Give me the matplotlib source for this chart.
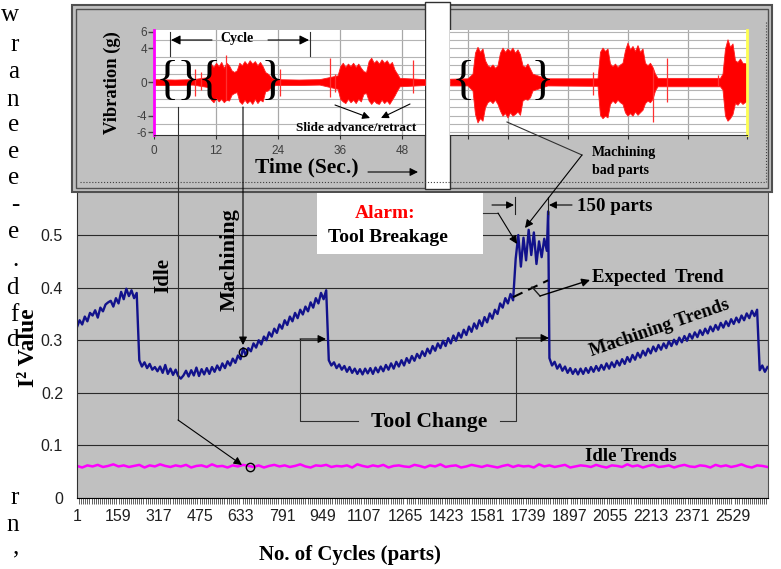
import numpy as np
import matplotlib.pyplot as plt
from matplotlib.patches import Rectangle

W, H = 781, 569
SERIF = ['Liberation Serif', 'DejaVu Serif']
SANS = ['Liberation Sans', 'DejaVu Sans']

# ---- I2 value per cycle (one value every 10 cycles) ----
seg1 = [0.325, 0.338, 0.330, 0.345, 0.336, 0.352, 0.347, 0.357, 0.343, 0.362,
        0.355, 0.368, 0.372, 0.375, 0.364, 0.380, 0.370, 0.392, 0.378, 0.398,
        0.384, 0.395, 0.380, 0.390]
seg2 = [0.262, 0.250, 0.258, 0.247, 0.255, 0.244, 0.249, 0.241, 0.250, 0.238,
        0.253, 0.236, 0.246, 0.234, 0.244, 0.232, 0.227, 0.233, 0.242, 0.231,
        0.243, 0.233, 0.248, 0.232, 0.245, 0.235, 0.247, 0.236, 0.249, 0.240,
        0.252, 0.243, 0.256, 0.247, 0.260, 0.252, 0.265, 0.257, 0.271, 0.264,
        0.285, 0.271, 0.285, 0.279, 0.294, 0.286, 0.300, 0.292, 0.307, 0.300,
        0.315, 0.307, 0.322, 0.314, 0.330, 0.322, 0.338, 0.329, 0.345, 0.336,
        0.352, 0.342, 0.358, 0.349, 0.364, 0.355, 0.372, 0.362, 0.380, 0.370,
        0.390, 0.378, 0.395]
seg3 = [0.262, 0.252, 0.258, 0.247, 0.254, 0.244, 0.251, 0.240, 0.249, 0.238,
        0.246, 0.236, 0.245, 0.235, 0.246, 0.237, 0.247, 0.236, 0.248, 0.239,
        0.250, 0.241, 0.253, 0.244, 0.256, 0.246, 0.259, 0.250, 0.262, 0.252,
        0.266, 0.257, 0.270, 0.261, 0.274, 0.266, 0.279, 0.270, 0.284, 0.275,
        0.289, 0.280, 0.294, 0.285, 0.299, 0.289, 0.304, 0.294, 0.309, 0.299,
        0.314, 0.305, 0.320, 0.310, 0.326, 0.316, 0.332, 0.322, 0.338, 0.327,
        0.344, 0.334, 0.351, 0.341, 0.358, 0.350, 0.370, 0.362, 0.380, 0.370,
        0.388, 0.376]
seg4 = [0.455, 0.500, 0.440, 0.495, 0.452, 0.510, 0.462, 0.505, 0.445, 0.488,
        0.458, 0.493, 0.470]
spike_cycle, spike_value = 1816, 0.545
seg5 = [0.266, 0.252, 0.259, 0.246, 0.254, 0.242, 0.250, 0.238, 0.247, 0.236,
        0.245, 0.235, 0.246, 0.236, 0.247, 0.238, 0.249, 0.240, 0.251, 0.242,
        0.253, 0.244, 0.256, 0.246, 0.258, 0.249, 0.261, 0.252, 0.264, 0.255,
        0.268, 0.259, 0.272, 0.263, 0.276, 0.267, 0.280, 0.271, 0.284, 0.275,
        0.288, 0.279, 0.291, 0.282, 0.294, 0.285, 0.298, 0.289, 0.301, 0.292,
        0.305, 0.296, 0.308, 0.299, 0.312, 0.303, 0.315, 0.306, 0.319, 0.310,
        0.322, 0.313, 0.326, 0.317, 0.329, 0.320, 0.333, 0.324, 0.336, 0.327,
        0.340, 0.331, 0.343, 0.334, 0.347, 0.338, 0.351, 0.342, 0.356, 0.346,
        0.358]
seg6 = [0.243, 0.252, 0.240, 0.249]

idle_i2 = [0.061, 0.058, 0.062, 0.060, 0.063, 0.059, 0.061, 0.064, 0.060, 0.062,
           0.059, 0.061, 0.063, 0.058, 0.062, 0.060, 0.064, 0.061, 0.059, 0.062,
           0.060, 0.063, 0.058, 0.061, 0.062, 0.059, 0.064, 0.060, 0.061, 0.058,
           0.062, 0.060, 0.063, 0.061, 0.059, 0.062, 0.058, 0.061, 0.063, 0.060,
           0.062, 0.059, 0.061, 0.064, 0.060, 0.058, 0.062, 0.061, 0.063, 0.059,
           0.061, 0.060, 0.062, 0.058, 0.064, 0.061, 0.059, 0.062, 0.060, 0.063,
           0.058, 0.061, 0.062, 0.060, 0.059, 0.063, 0.061, 0.058, 0.062, 0.060,
           0.064, 0.059, 0.061, 0.062, 0.058, 0.060, 0.063, 0.061, 0.059, 0.062,
           0.060, 0.058, 0.061, 0.063, 0.059, 0.062, 0.060, 0.061, 0.058, 0.064,
           0.060, 0.062, 0.059, 0.061, 0.063, 0.058, 0.060, 0.062, 0.061, 0.059,
           0.063, 0.060, 0.058, 0.062, 0.061, 0.059, 0.064, 0.060, 0.062, 0.058,
           0.061, 0.063, 0.059, 0.060, 0.062, 0.058, 0.061, 0.063, 0.060, 0.059,
           0.062, 0.061, 0.058, 0.063, 0.060, 0.062, 0.059, 0.061, 0.064, 0.060,
           0.058, 0.062, 0.061, 0.059]

expected_cycles = [1681, 1816]
expected_i2 = [0.382, 0.414]
mark_cycles = [640, 667]
mark_i2 = [0.278, 0.059]

xtick_vals = list(range(1, 2530, 158))
n_cycles = 2663

# ---- vibration trace envelopes (g), left and right part of the inset ----
t_left = [0, 4, 7.5, 10.5, 11.0, 11.5, 12.0, 12.5, 13.0, 13.5, 14.0, 14.5, 15.0,
          15.5, 16.0, 16.5, 17.0, 17.5, 18.0, 18.5, 19.0, 19.5, 20.0, 20.5, 21.0,
          21.5, 22.0, 22.8, 23.5, 28, 32, 35.5, 36.0, 36.5, 37.0, 37.5, 38.0, 38.5,
          39.0, 39.5, 40.0, 40.5, 41.0, 41.5, 42.0, 42.5, 43.0, 43.5, 44.0, 44.5,
          45.0, 45.5, 46.0, 46.5, 47.0, 47.5, 52.4]
hi_left = [0.35, 0.30, 0.35, 0.60, 2.2, 1.8, 2.3, 1.9, 2.4, 1.7, 2.3, 2.0, 1.4,
           1.2, 1.4, 2.3, 2.0, 2.5, 2.1, 2.6, 2.2, 2.5, 2.0, 2.4, 1.9,
           1.2, 1.0, 0.5, 0.35, 0.3, 0.35, 0.8, 1.9, 2.3, 1.8, 2.2, 1.9, 2.3,
           1.8, 2.2, 1.7, 1.3, 1.2, 2.5, 2.9, 2.3, 2.6, 2.2, 2.7, 2.3,
           2.6, 2.1, 2.4, 1.5, 1.0, 0.5, 0.35]
lo_left = [-0.35, -0.35, -0.30, -0.60, -2.1, -2.4, -1.9, -2.3, -2.0, -2.4, -2.1, -2.2, -1.5,
           -1.3, -1.2, -2.3, -2.6, -2.1, -2.5, -2.2, -2.6, -2.0, -2.5, -2.1, -2.3,
           -1.1, -1.0, -0.5, -0.35, -0.35, -0.3, -0.8, -2.0, -2.3, -2.5, -2.0, -2.4, -2.1,
           -2.5, -2.0, -2.3, -1.4, -1.3, -2.2, -2.6, -2.2, -2.5, -2.6, -2.1, -2.5,
           -2.2, -2.6, -2.1, -1.6, -1.0, -0.5, -0.35]
spike_t_left = [8.0, 9.0, 14.0, 24.4, 34.0, 35.0, 50.0]
spike_hi_left = [1.6, 1.2, 3.2, 1.5, 2.9, 1.0, 2.6]
spike_lo_left = [-1.7, -1.0, -2.1, -1.6, -1.8, -1.2, -1.3]

t_right = [0, 3.5, 4.5, 5.0, 5.5, 6.0, 6.5, 7.0, 7.5, 8.0, 8.5, 9.0, 9.5, 10.0,
           10.5, 11.0, 11.5, 12.0, 12.5, 13.0, 13.5, 14.0, 14.5, 15.0, 15.5, 16.0,
           16.5, 17.5, 18.5, 19.5, 29.5, 30.0, 30.5, 31.0, 31.5, 32.0, 32.5, 33.0,
           33.5, 34.0, 34.5, 35.0, 35.5, 36.0, 36.5, 37.0, 37.5, 38.0, 38.5, 39.0,
           39.5, 40.0, 40.5, 41.0, 41.5, 54.0, 54.5, 55.0, 55.5, 56.0, 56.5, 57.0,
           57.5, 58.0, 58.5, 59.4]
hi_right = [0.4, 0.45, 1.0, 3.5, 4.2, 3.6, 4.0, 2.6, 2.0, 1.8, 2.1, 1.7, 2.0, 3.5,
            4.1, 3.6, 4.0, 3.7, 4.1, 3.5, 3.9, 3.3, 2.0, 1.8, 2.2, 1.6,
            1.0, 0.8, 0.6, 0.45, 0.45, 3.6, 4.1, 3.7, 4.0, 2.2, 1.9, 2.2,
            1.8, 2.1, 2.3, 3.8, 4.7, 3.9, 4.3, 3.7, 4.4, 3.6, 4.0, 2.3,
            2.0, 2.3, 1.8, 1.0, 0.5, 0.5, 1.0, 4.0, 5.1, 4.2, 4.6, 2.6,
            2.4, 2.8, 2.3, 2.2]
lo_right = [-0.4, -0.4, -1.0, -3.8, -4.8, -4.3, -4.6, -3.0, -2.4, -2.2, -2.5, -2.1, -2.6, -3.4,
            -4.0, -3.7, -4.2, -3.6, -4.0, -3.8, -3.5, -3.9, -2.2, -2.0, -2.1, -1.8,
            -1.0, -0.8, -0.6, -0.4, -0.45, -3.9, -4.3, -4.0, -4.2, -2.6, -2.2, -2.5,
            -2.1, -2.4, -2.6, -3.6, -4.0, -3.7, -4.0, -3.5, -3.9, -3.6, -3.3, -2.5,
            -2.2, -2.4, -2.0, -1.0, -0.5, -0.5, -0.9, -4.0, -4.6, -4.3, -3.8, -2.5,
            -2.7, -2.3, -2.6, -2.2]
spike_t_right = [28.6, 40.6, 43.4, 53.6]
spike_hi_right = [1.2, 1.5, 2.9, 0.9]
spike_lo_right = [-1.5, -4.8, -2.4, -0.5]


def box(x0, y0, x1, y1):
    return [x0 / W, 1 - y1 / H, (x1 - x0) / W, (y1 - y0) / H]


def arrow(a, x0, y0, x1, y1, ms=10, lw=0.8):
    a.annotate('', xy=(x1, y1), xytext=(x0, y0),
               arrowprops=dict(arrowstyle='-|>', color='black', lw=lw,
                               mutation_scale=ms, shrinkA=0, shrinkB=0))


def btext(a, x, y, s, size, **kw):
    kw.setdefault('ha', 'center')
    kw.setdefault('va', 'center')
    a.text(x, y, s, fontsize=size, family=SERIF, fontweight='bold', **kw)


fig = plt.figure(figsize=(7.81, 5.69), dpi=100)

# ---- main chart ----
cycles = np.concatenate([np.arange(1, 232, 10), np.arange(241, 962, 10),
                         np.arange(971, 1682, 10), np.arange(1691, 1812, 10),
                         [spike_cycle], np.arange(1821, 2622, 10),
                         np.arange(2631, 2662, 10)])
i2 = np.concatenate([seg1, seg2, seg3, seg4, [spike_value], seg5, seg6])
idle_cycles = np.arange(1, 2662, 20)

ax = fig.add_axes(box(77, 193, 768, 498), zorder=1)
ax.set_facecolor('#c0c0c0')
ax.plot(cycles, i2, color='#12128c', lw=1.7)
ax.plot(idle_cycles, idle_i2, color='#ff00ff', lw=1.8)
ax.plot(expected_cycles, expected_i2, color='black', lw=1.5, dashes=(5, 3))
ax.plot(mark_cycles, mark_i2, 'o', mfc='none', mec='black', ms=6, mew=1)
ax.set_xlim(1, n_cycles)
ax.set_ylim(0, 0.58)
ax.set_yticks([0, 0.1, 0.2, 0.3, 0.4, 0.5])
ax.set_yticklabels(['0', '0.1', '0.2', '0.3', '0.4', '0.5'])
ax.set_xticks(xtick_vals)
ax.set_xticklabels([str(v) for v in xtick_vals])
ax.set_xticks(np.arange(1, n_cycles, 8), minor=True)
ax.yaxis.grid(True, color='#2a2a2a', lw=0.8)
ax.set_axisbelow(True)
ax.tick_params(axis='x', which='minor', length=4, width=0.5, color='#202020')
ax.tick_params(axis='x', which='major', length=0, pad=8)
ax.tick_params(axis='y', length=0, pad=10)
for lab in ax.get_xticklabels() + ax.get_yticklabels():
    lab.set_family(SANS)
    lab.set_fontsize(11.5)
    lab.set_color('#202020')
ax.spines['top'].set_visible(False)
ax.spines['left'].set_color('#303030')
ax.spines['right'].set_color('#505050')
ax.spines['bottom'].set_color('black')

# ---- background layer: inset frame and alarm box ----
bg = fig.add_axes([0, 0, 1, 1], zorder=2)
bg.set_xlim(0, W)
bg.set_ylim(H, 0)
bg.axis('off')
bg.add_patch(Rectangle((72, 5), 700, 187, fc='#c0c0c0', ec='#505050', lw=1.5))
bg.add_patch(Rectangle((76, 9), 692, 179, fc='none', ec='#505050', lw=1))
bg.plot([80, 766], [182, 182], color='#404040', lw=0.8, ls=':')
bg.plot([766, 766], [22, 182], color='#404040', lw=0.8, ls=':')
bg.add_patch(Rectangle((425, 2), 25, 187, fc='white', ec='#303030', lw=1))
bg.add_patch(Rectangle((317, 193), 166, 61, fc='white', ec='none'))

# ---- inset vibration traces ----
for side in ('left', 'right'):
    if side == 'left':
        ia = fig.add_axes(box(154, 30, 425, 135), zorder=3)
        t, hi, lo = t_left, hi_left, lo_left
        st, sh, sl = spike_t_left, spike_hi_left, spike_lo_left
        ia.set_xlim(0, 52.4)
        ia.set_xticks([0, 12, 24, 36, 48])
    else:
        ia = fig.add_axes(box(450, 30, 747, 135), zorder=3)
        t, hi, lo = t_right, hi_right, lo_right
        st, sh, sl = spike_t_right, spike_hi_right, spike_lo_right
        ia.set_xlim(0, 59.4)
        ia.set_xticks([3.6, 11.6, 23.6, 35.6, 47.6, 59.4])
    ia.set_facecolor('white')
    ia.set_ylim(-6.3, 6.2)
    ia.set_yticks(range(-6, 7), minor=True)
    ia.yaxis.grid(True, which='minor', color='#b4b4b4', lw=0.8)
    ia.xaxis.grid(True, color='#a8a8a8', lw=0.9)
    ia.set_axisbelow(True)
    ia.fill_between(t, lo, hi, color='#ff0000', lw=0.6, edgecolor='#ff2020')
    ia.vlines(st, sl, sh, color='#ff3030', lw=0.9)
    ia.spines['top'].set_visible(False)
    ia.spines['bottom'].set_color('#303030')
    ia.tick_params(which='minor', length=0)
    ia.tick_params(axis='x', length=3, width=0.8, color='#303030')
    if side == 'left':
        ia.spines['right'].set_visible(False)
        ia.spines['left'].set_color('#ff00ff')
        ia.spines['left'].set_linewidth(2)
        ia.set_yticks([-6, -4, 0, 4, 6])
        ia.set_yticklabels(['-6', '-4', '0', '4', '6'])
        ia.tick_params(axis='y', length=4, width=1, color='#404040', pad=1)
        ia.tick_params(axis='x', pad=4)
        for lab in ia.get_xticklabels() + ia.get_yticklabels():
            lab.set_family(SANS)
            lab.set_fontsize(8.5)
            lab.set_color('#404040')
    else:
        ia.spines['left'].set_visible(False)
        ia.spines['right'].set_color('#ffff50')
        ia.spines['right'].set_linewidth(2)
        ia.set_yticks([])
        ia.set_xticklabels([])

# ---- annotation layer ----
ov = fig.add_axes([0, 0, 1, 1], zorder=4)
ov.set_xlim(0, W)
ov.set_ylim(H, 0)
ov.axis('off')

for x, s in [(167, '{'), (188, '}'), (209, '{'), (272, '}'), (463, '{'), (542, '}')]:
    ov.text(x, 82, s, fontsize=35, family=SERIF, ha='center', va='center')

# cycle span
ov.plot([170, 170], [32, 56], color='#303030', lw=0.8)
ov.plot([310, 310], [32, 56], color='#303030', lw=0.8)
arrow(ov, 212, 40, 171, 40, ms=14)
arrow(ov, 268, 40, 309, 40, ms=14)
btext(ov, 237, 38, 'Cycle', 10)

# slide advance / retract
arrow(ov, 335, 105, 370, 118, ms=11)
arrow(ov, 410, 104, 381, 118, ms=11)
btext(ov, 356, 128, 'Slide advance/retract', 9.5)

btext(ov, 112, 83, 'Vibration (g)', 13.3, rotation=90)
btext(ov, 307, 167, 'Time (Sec.)', 15.5)
arrow(ov, 368, 172, 418, 172, ms=12)

btext(ov, 592, 152, 'Machining', 10, ha='left')
btext(ov, 592, 170, 'bad parts', 10, ha='left')
ov.plot([582, 507], [155, 122], color='#303030', lw=0.8)
arrow(ov, 582, 155, 525, 228, ms=12)

# pointers from the inset into the main chart
ov.plot([178, 178], [107, 420], color='#303030', lw=0.8)
arrow(ov, 178, 420, 242, 465, ms=12)
arrow(ov, 243, 107, 243, 345, ms=12)

btext(ov, 163, 275, 'Idle', 15, rotation=90)
btext(ov, 230, 260, 'Machining', 16, rotation=90)

ov.text(385, 213, 'Alarm:', fontsize=14, family=SERIF, fontweight='bold',
        color='#ff0000', ha='center', va='center')
btext(ov, 388, 237, 'Tool Breakage', 14)
ov.plot([483, 498], [213, 213], color='#303030', lw=0.8)
arrow(ov, 498, 213, 517, 244, ms=12)

ov.plot([515, 515], [197, 214], color='#202020', lw=0.8)
ov.plot([548, 548], [197, 214], color='#202020', lw=0.8)
arrow(ov, 492, 205, 514, 205, ms=11)
arrow(ov, 572, 205, 549, 205, ms=11)
btext(ov, 577, 206, '150 parts', 13.6, ha='left')

btext(ov, 592, 277, 'Expected  Trend', 13.5, ha='left')
ov.plot([532, 540], [287, 296], color='#202020', lw=1)
arrow(ov, 540, 296, 590, 280, ms=12, lw=1)

btext(ov, 660, 328, 'Machining Trends', 13.5, rotation=19)

btext(ov, 429, 422, 'Tool Change', 15.5)
ov.plot([358, 300, 300], [421, 421, 339], color='#303030', lw=0.8)
arrow(ov, 300, 339, 326, 339, ms=12)
ov.plot([500, 516, 516], [421, 421, 338], color='#303030', lw=0.8)
arrow(ov, 516, 338, 549, 338, ms=12)

btext(ov, 631, 456, 'Idle Trends', 13.5)

btext(ov, 350, 555, 'No. of Cycles (parts)', 15)
btext(ov, 29, 348, 'I\u00b2 Value', 17, rotation=90)

# cut-off words from the neighbouring text column
margin = [('w', 21), ('r', 51), ('a', 78), ('n', 106), ('e', 131), ('e', 158),
          ('e', 184), ('-', 211), ('e', 238), ('.', 266), ('d', 294), ('f', 321),
          ('d', 346), ('r', 504), ('n', 531), (',', 553)]
for s, y in margin:
    ov.text(19, y, s, fontsize=18, family=SERIF, ha='right', va='baseline')

fig.savefig('out.png', dpi=100)
